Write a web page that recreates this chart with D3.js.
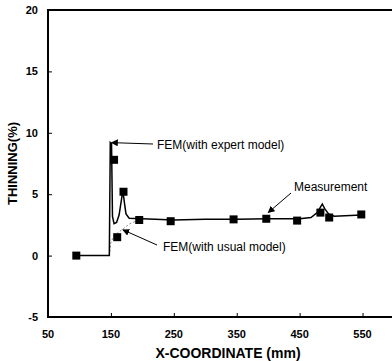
<!DOCTYPE html>
<html>
<head>
<meta charset="utf-8">
<script src="https://cdn.jsdelivr.net/npm/d3@7"></script>
<style>
  body { margin: 0; background: #fff; }
  svg { display: block; font-family: "Liberation Sans", Arial, sans-serif; }
</style>
</head>
<body>
<div class="chart"></div>
<script>
let width = 392,
    height = 361;

// measured thinning (squares)
const measurement = [
    [95, 0], [155, 7.8], [160, 1.5], [170, 5.2], [195, 2.9], [245, 2.8],
    [345, 2.95], [397, 3.0], [446, 2.85], [483, 3.5], [497, 3.1], [548, 3.35]
];

// FEM with expert model (solid)
const femExpert = [
    [95, 0], [147.5, 0], [149, 9.2], [151, 9.1], [152.5, 3.2], [155, 2.6],
    [159, 2.7], [163, 3.3], [166, 4.3], [169, 5.3], [171.5, 4.3], [174, 3.4],
    [179, 3.05], [200, 3.0], [250, 2.9], [300, 2.95], [350, 2.95], [400, 3.0],
    [450, 3.0], [468, 3.1], [478, 3.5], [486, 4.2], [490, 3.8], [496, 3.4],
    [505, 3.2], [548, 3.3]
];

// FEM with usual model (faint dotted)
const femUsual = [
    [147.5, 0], [150, 1.1], [155, 1.6], [162, 1.9], [170, 2.2], [180, 2.6], [195, 2.9]
];

const xTicks = [50, 150, 250, 350, 450, 550];
const yTicks = [-5, 0, 5, 10, 15, 20];

document.addEventListener('DOMContentLoaded', () => {
    let svg = d3.select(".chart").append("svg")
        .attr("width", width)
        .attr("height", height);

    let x = d3.scaleLinear().domain([50, 600]).range([48, 394]);
    let y = d3.scaleLinear().domain([-5, 20]).range([317, 10]);

    let defs = svg.append("defs");
    defs.append("marker")
        .attr("id", "arrow")
        .attr("viewBox", "0 0 10 10")
        .attr("refX", 9).attr("refY", 5)
        .attr("markerWidth", 7).attr("markerHeight", 7)
        .attr("markerUnits", "userSpaceOnUse")
        .attr("orient", "auto")
        .append("path")
        .attr("d", "M0,0L10,5L0,10Z")
        .style("fill", "#000");

    // frame: left, bottom, top
    svg.append("path")
        .attr("d", `M${x(600)},${y(20)}H${x(50)}V${y(-5)}H${x(600)}`)
        .style("fill", "none")
        .style("stroke", "#000")
        .style("stroke-width", 2);

    // inner ticks
    svg.append("g")
        .attr("transform", `translate(0,${y(-5)})`)
        .call(d3.axisTop(x).tickValues(xTicks).tickSize(4).tickFormat(""))
        .call(g => g.select(".domain").remove());
    svg.append("g")
        .attr("transform", `translate(${x(50)},0)`)
        .call(d3.axisRight(y).tickValues(yTicks).tickSize(4).tickFormat(""))
        .call(g => g.select(".domain").remove());

    // tick labels
    svg.selectAll(".xlab").data(xTicks).enter().append("text")
        .attr("x", d => x(d))
        .attr("y", 338)
        .attr("text-anchor", "middle")
        .style("font-size", "11px")
        .style("font-weight", "bold")
        .text(d => d);
    svg.selectAll(".ylab").data(yTicks).enter().append("text")
        .attr("x", 38)
        .attr("y", d => y(d) + 4)
        .attr("text-anchor", "end")
        .style("font-size", "11px")
        .style("font-weight", "bold")
        .text(d => d);

    // axis titles
    svg.append("text")
        .attr("x", 228).attr("y", 358)
        .attr("text-anchor", "middle")
        .style("font-size", "14px")
        .style("font-weight", "bold")
        .text("X-COORDINATE (mm)");
    svg.append("text")
        .attr("transform", `translate(17,${y(7.5)}) rotate(-90)`)
        .attr("text-anchor", "middle")
        .style("font-size", "13px")
        .style("font-weight", "bold")
        .text("THINNING(%)");

    let line = d3.line().x(d => x(d[0])).y(d => y(d[1]));

    svg.append("path")
        .datum(femUsual)
        .attr("d", line)
        .style("fill", "none")
        .style("stroke", "#888")
        .style("stroke-width", 1)
        .style("stroke-dasharray", "2,2");

    svg.append("path")
        .datum(femExpert)
        .attr("d", line)
        .style("fill", "none")
        .style("stroke", "#000")
        .style("stroke-width", 1.5);

    svg.selectAll(".meas").data(measurement).enter().append("rect")
        .attr("x", d => x(d[0]) - 4)
        .attr("y", d => y(d[1]) - 4)
        .attr("width", 8)
        .attr("height", 8)
        .style("fill", "#000");

    // annotations
    const notes = [
        { text: "FEM(with expert model)", tx: 157, ty: 149, from: [153, 144], to: [x(151), y(9.2)] },
        { text: "FEM(with usual model)", tx: 163, ty: 251, from: [157, 245], to: [x(169), y(2.1)] },
        { text: "Measurement", tx: 294, ty: 191, from: [291, 193], to: [x(400), y(3.5)] }
    ];
    notes.forEach(n => {
        svg.append("line")
            .attr("x1", n.from[0]).attr("y1", n.from[1])
            .attr("x2", n.to[0]).attr("y2", n.to[1])
            .style("stroke", "#000")
            .style("stroke-width", 1)
            .attr("marker-end", "url(#arrow)");
        svg.append("text")
            .attr("x", n.tx).attr("y", n.ty)
            .style("font-size", "12px")
            .text(n.text);
    });
});
</script>
</body>
</html>
